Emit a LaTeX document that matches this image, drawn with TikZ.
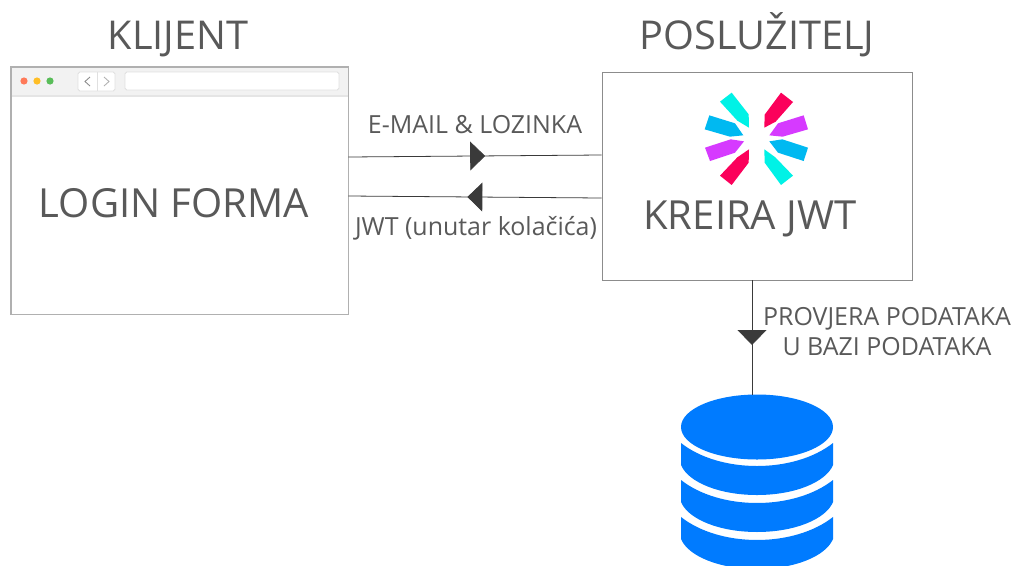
\documentclass[tikz,border=0pt]{standalone}
\usepackage{fontspec}
\setmainfont{Open Sans}
\usetikzlibrary{arrows.meta,calc,decorations.markings}
\definecolor{tekst}{HTML}{595959}
\definecolor{linija}{HTML}{3A3A3A}
\definecolor{okvir}{HTML}{B0B0B0}
\definecolor{baza}{HTML}{007BFF}
\definecolor{jwtcyan}{HTML}{00F2E6}
\definecolor{jwtred}{HTML}{FB015B}
\definecolor{jwtblue}{HTML}{00B9F1}
\definecolor{jwtpurple}{HTML}{D63AFF}
\tikzset{
  naslov/.style={text=tekst,anchor=base,font=\fontsize{22.6}{26}\selectfont},
  veliki/.style={text=tekst,font=\fontsize{22.8}{26}\selectfont},
  oznaka/.style={text=tekst,font=\fontsize{14.2}{17}\selectfont,align=center},
  kutija/.style={draw=okvir,line width=0.45pt,fill=white,inner sep=0pt},
  tok/.style={draw=linija,line width=0.45pt,postaction={decorate},
    decoration={markings,mark=at position #1 with {\arrow{Triangle[width=16.5pt,length=8.5pt]}}}},
  gumb/.style={draw=black!12,line width=0.5pt,fill=white,rounded corners=1pt},
}
\newcommand{\dbtraka}[1]{
\fill[baza,yshift=#1] (681,443) .. controls (700,458) and (728,466) .. (757,466)
  .. controls (786,466) and (814,458) .. (833,443) -- (833,465)
  .. controls (826,482) and (795,495) .. (757,495)
  .. controls (719,495) and (688,482) .. (681,465) -- cycle;
}
\begin{document}
\begin{tikzpicture}[x=0.02cm,y=-0.02cm]
\clip (0,0) rectangle (1013,565);
% klijent
\node[kutija,minimum width=6.74cm,minimum height=4.94cm] (klijent) at (179.5,190.5) {};
\fill[black!5] (11.5,67.5) rectangle (347.5,96);
\draw[black!10,line width=0.6pt] (11.5,96) -- (347.5,96);
\draw[okvir,line width=0.45pt] (klijent.north west) rectangle (klijent.south east);
\fill[red!60!orange!65] (24,81) circle (3.6);
\fill[orange!60!yellow!85] (37,81) circle (3.6);
\fill[green!60!black!65] (50,81) circle (3.6);
\draw[gumb] (78,72) rectangle (115,91);
\draw[black!12,line width=0.5pt] (97,72) -- (97,91);
\draw[black!45,line width=0.5pt] (90,77) -- (85,81.5) -- (90,86);
\draw[black!30,line width=0.5pt] (104,77) -- (109,81.5) -- (104,86);
\draw[gumb] (125,72) rectangle (339,90);
\node[naslov] (klijenttxt) at (178,49) {KLIJENT};
\node[veliki] (login) at (174,203) {LOGIN FORMA};
% posluzitelj
\node[kutija,draw=black!45,minimum width=6.2cm,minimum height=4.16cm] (posluzitelj) at (757,176) {};
\node[naslov] (posluzitxt) at (757,49) {POSLUŽITELJ};
\node[veliki] (kreira) at (750,219) {KREIRA JWT};
% logo
\begin{scope}[shift={(680,80)},x=0.02cm/3,y=-0.02cm/3]
\fill[jwtred] (303,38) -- (339,66) -- (287,125) -- (253,143) -- (254,104) -- cycle;
\fill[jwtcyan] (155,38) -- (120,65) -- (172,122) -- (207,143) -- (206,103) -- cycle;
\fill[jwtblue] (88,106) -- (74,148) -- (150,170) -- (190,166) -- (165,130) -- cycle;
\fill[jwtpurple] (371,106) -- (384,148) -- (308,170) -- (268,166) -- (294,130) -- cycle;
\fill[jwtpurple] (75,203) -- (90,243) -- (165,218) -- (192,184) -- (152,178) -- cycle;
\fill[jwtblue] (384,203) -- (371,243) -- (294,218) -- (268,184) -- (307,178) -- cycle;
\fill[jwtred] (155,315) -- (120,287) -- (172,232) -- (207,208) -- (206,248) -- cycle;
\fill[jwtcyan] (303,315) -- (339,287) -- (286,232) -- (253,208) -- (254,248) -- cycle;
\end{scope}
% baza
\fill[baza] (757,427) ellipse (76 and 32.5);
\dbtraka{0}
\dbtraka{-0.74cm}
\dbtraka{-1.48cm}
\node[minimum width=3.04cm,minimum height=3.4cm,inner sep=0pt] (bazapod) at (757,480) {};
% veze
\draw[tok=0.54] ($(klijent.east)+(0,-33.5)$) -- ($(posluzitelj.west)+(0,-21)$);
\draw[tok=0.53] ($(posluzitelj.west)+(0,22)$) -- ($(klijent.east)+(0,5.5)$);
\draw[tok=0.565] ($(posluzitelj.south)+(-5,0)$) -- ($(bazapod.north)+(-5,0)$);
\node[oznaka] (mail) at (475,125) {E-MAIL \& LOZINKA};
\node[oznaka] (jwt) at (476,228) {JWT (unutar kolačića)};
\node[oznaka] (provjera) at (887,332) {PROVJERA PODATAKA\\U BAZI PODATAKA};
\end{tikzpicture}
\end{document}
